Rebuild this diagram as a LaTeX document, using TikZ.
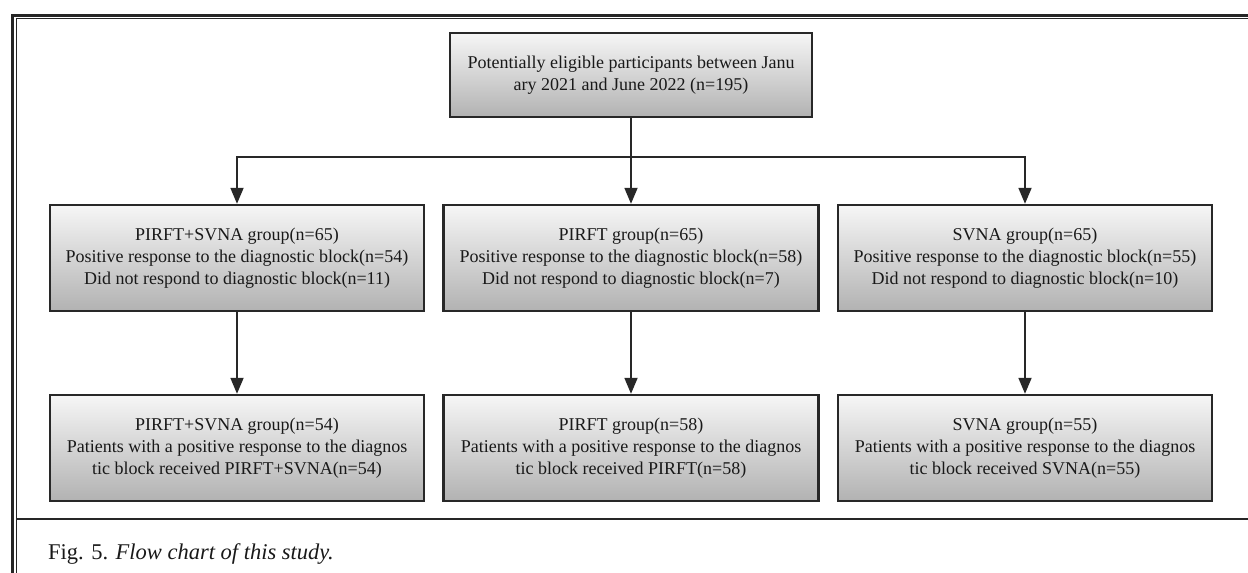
\documentclass[tikz,border=0pt]{standalone}
\usepackage{fontspec}
\setmainfont{Liberation Serif}
\usetikzlibrary{arrows.meta}
\definecolor{edge}{RGB}{40,40,40}
\definecolor{boxtop}{RGB}{246,246,246}
\definecolor{boxbot}{RGB}{178,178,178}
\tikzset{
  flowbox/.style={draw=edge, line width=2.4pt, top color=boxtop, bottom color=boxbot,
    align=center, inner sep=0pt, font=\fontsize{18}{22.3}\selectfont, text=black!90},
  wide/.style={minimum width=374pt, minimum height=106pt},
  conn/.style={draw=edge, line width=1.8pt},
  arr/.style={conn, -{Triangle[width=13pt,length=16pt]}},
  frameline/.style={draw=black!85}
}
\begin{document}
\begin{tikzpicture}[x=1pt,y=-1pt]
\useasboundingbox (0,0) rectangle (1248,573);
% frame
\draw[frameline, line width=3pt] (12.5,573) -- (12.5,15) -- (1248,15);
\draw[frameline, line width=1.2pt] (16.5,573) -- (16.5,18.7) -- (1248,18.7);
\draw[frameline, line width=1.8pt] (16.5,519) -- (1248,519);

% boxes
\node[flowbox, minimum width=362pt, minimum height=84pt] (top) at (631,75)
  {Potentially eligible participants between Janu\\ary 2021 and June 2022 (n=195)};

\node[flowbox, wide] (m1) at (237,258)
  {PIRFT+SVNA group(n=65)\\Positive response to the diagnostic block(n=54)\\Did not respond to diagnostic block(n=11)};
\node[flowbox, wide, minimum width=375pt] (m2) at (631,258)
  {PIRFT group(n=65)\\Positive response to the diagnostic block(n=58)\\Did not respond to diagnostic block(n=7)};
\node[flowbox, wide] (m3) at (1025,258)
  {SVNA group(n=65)\\Positive response to the diagnostic block(n=55)\\Did not respond to diagnostic block(n=10)};

\node[flowbox, wide] (b1) at (237,448)
  {PIRFT+SVNA group(n=54)\\Patients with a positive response to the diagnos\\tic block received PIRFT+SVNA(n=54)};
\node[flowbox, wide, minimum width=375pt] (b2) at (631,448)
  {PIRFT group(n=58)\\Patients with a positive response to the diagnos\\tic block received PIRFT(n=58)};
\node[flowbox, wide] (b3) at (1025,448)
  {SVNA group(n=55)\\Patients with a positive response to the diagnos\\tic block received SVNA(n=55)};

% connectors
\coordinate (split) at (631,157);
\draw[conn] (top.south) -- (split);
\draw[arr] (split) -| (m1.north);
\draw[arr] (split) -| (m3.north);
\draw[arr] (split) -- (m2.north);
\draw[arr] (m1.south) -- (b1.north);
\draw[arr] (m2.south) -- (b2.north);
\draw[arr] (m3.south) -- (b3.north);

% caption
\node[anchor=base west, inner sep=0pt, font=\fontsize{22.5}{26}\selectfont, text=black!90] (cap) at (48,559)
  {Fig. 5. \textit{Flow chart of this study.}};
\end{tikzpicture}
\end{document}
